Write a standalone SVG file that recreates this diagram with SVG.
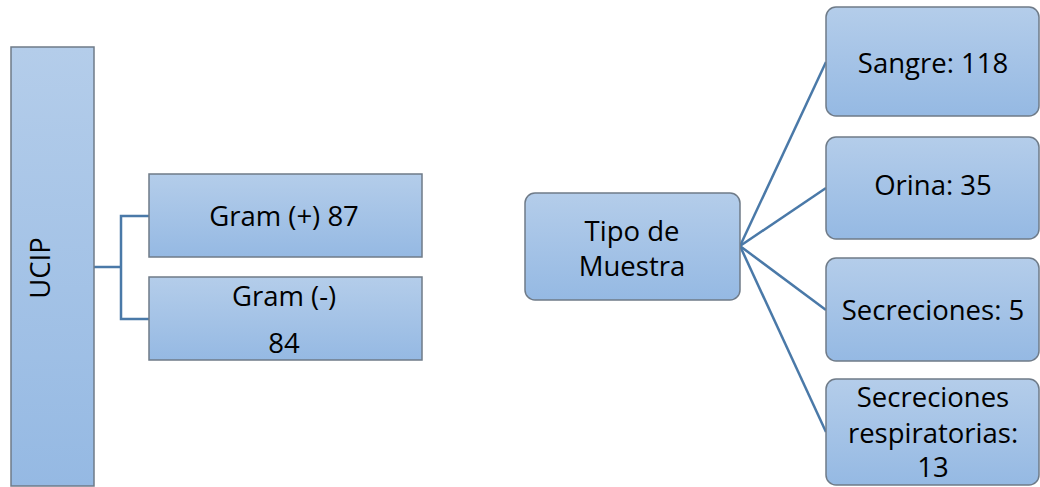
<svg xmlns="http://www.w3.org/2000/svg" width="1040" height="487" viewBox="0 0 1040 487">
<defs>
<linearGradient id="g" x1="0" y1="0" x2="0" y2="1">
<stop offset="0" stop-color="#b4cdea"/>
<stop offset="1" stop-color="#95b9e3"/>
</linearGradient>
</defs>
<style>
.box{fill:url(#g);stroke:#6f7b88;stroke-width:1.5}
.t{font-family:"Open Sans","Liberation Sans",sans-serif;font-size:27.5px;fill:#000;text-anchor:middle}
.c{fill:none;stroke:#4a79a8;stroke-width:2.5}
</style>
<g id="connectors">
<polyline class="c" points="94,267 121,267"/>
<polyline class="c" points="149,216 121,216 121,319 149,319"/>
<line class="c" x1="740" y1="246" x2="826" y2="62"/>
<line class="c" x1="740" y1="246" x2="826" y2="188"/>
<line class="c" x1="740" y1="246" x2="826" y2="310"/>
<line class="c" x1="740" y1="246" x2="826" y2="432"/>
</g>
<g id="ucip">
<rect class="box" x="11" y="47" width="83" height="439"/>
<text class="t" transform="translate(50,268) rotate(-90)">UCIP</text>
</g>
<g id="gram-pos">
<rect class="box" x="149" y="174" width="273" height="83"/>
<text class="t" x="284" y="226">Gram (+) 87</text>
</g>
<g id="gram-neg">
<rect class="box" x="149" y="277" width="273" height="83"/>
<text class="t" x="284" y="306">Gram (-)</text>
<text class="t" x="284" y="353">84</text>
</g>
<g id="tipo">
<rect class="box" x="525" y="193" width="215" height="107" rx="10"/>
<text class="t" x="632" y="241">Tipo de</text>
<text class="t" x="632" y="276">Muestra</text>
</g>
<g id="sangre">
<rect class="box" x="826" y="7" width="213" height="109" rx="10"/>
<text class="t" x="933" y="73">Sangre: 118</text>
</g>
<g id="orina">
<rect class="box" x="826" y="137" width="213" height="102" rx="10"/>
<text class="t" x="933" y="195">Orina: 35</text>
</g>
<g id="secreciones">
<rect class="box" x="826" y="258" width="213" height="103" rx="10"/>
<text class="t" x="933" y="320">Secreciones: 5</text>
</g>
<g id="resp">
<rect class="box" x="826" y="379" width="213" height="106" rx="10"/>
<text class="t" x="933" y="407">Secreciones</text>
<text class="t" x="933" y="443">respiratorias:</text>
<text class="t" x="933" y="477">13</text>
</g>
</svg>
